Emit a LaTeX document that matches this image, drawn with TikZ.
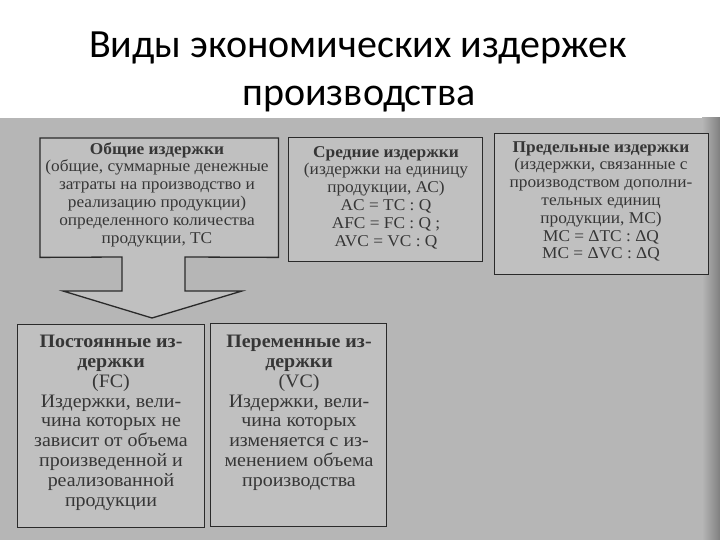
\documentclass[tikz,border=0pt]{standalone}
\usepackage{fontspec}
\setmainfont[FakeStretch=1.05]{Liberation Serif}
\newfontfamily\titlefont{Carlito}
\definecolor{paper}{HTML}{B6B6B6}
\definecolor{boxfill}{HTML}{C0C0C0}
\definecolor{ink}{HTML}{363636}
\definecolor{edge}{HTML}{2A2A2A}
\tikzset{
  titletext/.style={font=\titlefont\fontsize{40}{48}\selectfont, text=black, inner sep=0pt},
  box/.style={draw=edge, line width=1.3pt, fill=boxfill, inner sep=0pt},
  boxarea/.style={fill=boxfill, inner sep=0pt},
  outline/.style={draw=edge, line width=1.3pt, fill=boxfill, line join=miter},
  toptxt/.style={text=ink, align=center, inner sep=0pt, font=\fontsize{16.5}{17.8}\selectfont},
  bottxt/.style={text=ink, align=center, inner sep=0pt, font=\fontsize{19}{19.8}\selectfont},
}
\begin{document}
\begin{tikzpicture}[x=1pt,y=-1pt]
\useasboundingbox (0,0) rectangle (720,540);
% page
\fill[white] (0,0) rectangle (720,118);
\fill[paper] (0,118) rectangle (720,540);
\shade[left color=paper, right color=paper!70!black] (702,118) rectangle (720,540);
% title
\node[titletext, anchor=base] (t1) at (358,58) {Виды экономических издержек};
\node[titletext, anchor=base] (t2) at (359,106) {производства};
% box A with block arrow
\node[boxarea, minimum width=238pt, minimum height=119pt, anchor=north west] (A) at (40,138) {};
\coordinate (sR) at (185,257);
\coordinate (wR) at (185,291);
\coordinate (hR) at (242,291);
\coordinate (tip) at (152,318);
\coordinate (hL) at (63,291);
\coordinate (wL) at (122,291);
\coordinate (sL) at (122,257);
\draw[outline] (A.north west) -- (A.north east) -- (A.south east) -- (sR) -- (wR) -- (hR) -- (tip) -- (hL) -- (wL) -- (sL) -- (A.south west) -- cycle;
% other boxes
\node[box, minimum width=194pt, minimum height=124pt, anchor=north west] (B) at (288,137) {};
\node[box, minimum width=214pt, minimum height=141pt, anchor=north west] (C) at (494,133) {};
\node[box, minimum width=187pt, minimum height=203pt, anchor=north west] (D) at (17,324) {};
\node[box, minimum width=176pt, minimum height=203pt, anchor=north west] (E) at (210,323) {};
% texts
\node[toptxt, anchor=north] (At) at (157,142) {\textbf{Общие издержки}\\(общие, суммарные денежные\\затраты на производство и\\реализацию продукции)\\определенного количества\\продукции, ТС};
\node[toptxt, anchor=north] (Bt) at (386,146) {\textbf{Средние издержки}\\(издержки на единицу\\продукции, АС)\\AC = TC : Q\\AFC = FC : Q ;\\AVC = VC : Q};
\node[toptxt, anchor=north] (Ct) at (601,141) {\textbf{Предельные издержки}\\(издержки, связанные с\\производством дополни-\\тельных единиц\\продукции, МС)\\MC = ΔTC : ΔQ\\MC = ΔVC : ΔQ};
\node[bottxt, anchor=north] (Dt) at (111,335) {\textbf{Постоянные из-}\\\textbf{держки}\\(FC)\\Издержки, вели-\\чина которых не\\зависит от объема\\произведенной и\\реализованной\\продукции};
\node[bottxt, anchor=north] (Et) at (299,335) {\textbf{Переменные из-}\\\textbf{держки}\\(VC)\\Издержки, вели-\\чина которых\\изменяется с из-\\менением объема\\производства};
\end{tikzpicture}
\end{document}
